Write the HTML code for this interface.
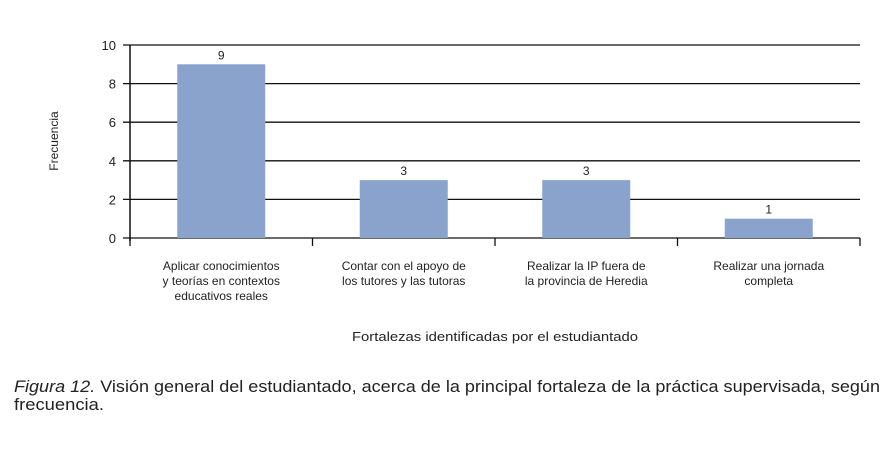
<!DOCTYPE html>
<html><head><meta charset="utf-8"><style>
body{margin:0;background:#fff;width:893px;height:456px;overflow:hidden;font-family:"Liberation Sans",sans-serif}
svg text{font-family:"Liberation Sans",sans-serif;fill:#222}
</style></head><body>
<svg width="893" height="456">
<g id="g"></g>
<text transform="translate(58,141) rotate(-90)" text-anchor="middle" font-size="12">Frecuencia</text>
<text x="495" y="341" text-anchor="middle" font-size="12.5" textLength="286" lengthAdjust="spacingAndGlyphs">Fortalezas identificadas por el estudiantado</text>
<text x="14" y="392" font-size="16.5" textLength="866" lengthAdjust="spacingAndGlyphs"><tspan font-style="italic">Figura 12.</tspan> Visión general del estudiantado, acerca de la principal fortaleza de la práctica supervisada, según</text>
<text x="14" y="410" font-size="16.5" textLength="90" lengthAdjust="spacingAndGlyphs">frecuencia.</text>
</svg>
<script>
const categories=[["Aplicar conocimientos","y teorías en contextos","educativos reales"],["Contar con el apoyo de","los tutores y las tutoras"],["Realizar la IP fuera de","la provincia de Heredia"],["Realizar una jornada","completa"]];
const values=[9,3,3,1];
const ticks=[0,2,4,6,8,10];
const NS="http://www.w3.org/2000/svg";
const g=document.getElementById('g');
const x0=130,x1=860,yTop=45,yBot=238,yMax=10;
const y=v=>yBot-(v/yMax)*(yBot-yTop);
const bw=(x1-x0)/categories.length;
function el(t,a){const e=document.createElementNS(NS,t);for(const k in a)e.setAttribute(k,a[k]);g.appendChild(e);return e;}
ticks.forEach(t=>{
 const l=el('line',{x1:x0-7,x2:x1,y1:y(t),y2:y(t),stroke:'#111','stroke-width':1.3});
 
 
 const tx=el('text',{x:x0-14,y:y(t)+5,'text-anchor':'end','font-size':13});
 tx.textContent=t;
 
 
});
const ax=el('line',{x1:x0,x2:x0,y1:yTop,y2:yBot+3,stroke:'#111','stroke-width':1.5});


for(let i=0;i<=categories.length;i++){
 const t=el('line',{x1:x0+i*bw,x2:x0+i*bw,y1:yBot,y2:yBot+8,stroke:'#111','stroke-width':1.3});
 
 
}
values.forEach((v,i)=>{
 const cx=x0+bw*(i+0.5),w=88;
 const r=el('rect',{x:cx-w/2,y:y(v),width:w,height:yBot-y(v),fill:'#8aa3cd'});
 
 
 const lb=el('text',{x:cx,y:y(v)-5,'text-anchor':'middle','font-size':12});
 lb.textContent=v;
 
 
 categories[i].forEach((s,j)=>{
  const c=el('text',{x:cx,y:270+j*15,'text-anchor':'middle','font-size':12});
  c.textContent=s;
  
  
 });
});
</script>
</body></html>
